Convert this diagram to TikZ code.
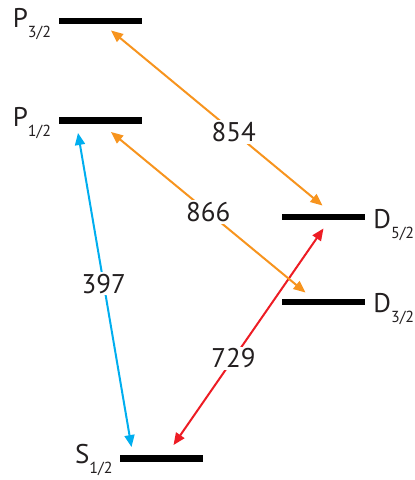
\documentclass[tikz,border=0pt]{standalone}
\usepackage{fontspec}
\setmainfont{PT Sans}
\usetikzlibrary{arrows.meta,calc,positioning}
\definecolor{lorange}{RGB}{247,148,30}
\definecolor{lblue}{RGB}{0,174,239}
\definecolor{lred}{RGB}{237,28,36}
\definecolor{ltext}{RGB}{35,31,32}
\newcommand{\lvlname}[2]{#1\raisebox{-10pt}{\fontsize{16}{16}\selectfont #2}}
\tikzset{lvbar/.style={fill=black,minimum width=83pt,minimum height=6.5pt,inner sep=0pt},
  lbl/.style={font=\fontsize{27}{27}\selectfont,inner sep=0pt,text=ltext},
  trans/.style={{Triangle[length=12pt,width=10pt]}-{Triangle[length=12pt,width=10pt]},line width=2pt},
  wl/.style={fill=white,inner sep=2pt,text=ltext,font=\fontsize{27}{27}\selectfont}}

\begin{document}
\begin{tikzpicture}[x=1pt,y=-1pt]
\useasboundingbox (0,0) rectangle (415,480);
% levels
\node[lvbar] (p32) at (100,21) {};
\node[lvbar] (p12) at (100,120.5) {};
\node[lvbar] (d52) at (323.5,217) {};
\node[lvbar] (d32) at (323.5,302) {};
\node[lvbar] (s12) at (161.5,458.5) {};
\node[lbl,anchor=base east] (p32l) at ($(p32.west)+(-7,6)$) {\lvlname{P}{3/2}};
\node[lbl,anchor=base east] (p12l) at ($(p12.west)+(-7,6)$) {\lvlname{P}{1/2}};
\node[lbl,anchor=base east] (s12l) at ($(s12.west)+(-7,5)$) {\lvlname{S}{1/2}};
\node[lbl,anchor=base west] (d52l) at ($(d52.east)+(8,11)$) {\lvlname{D}{5/2}};
\node[lbl,anchor=base west] (d32l) at ($(d32.east)+(8,10)$) {\lvlname{D}{3/2}};
% arrow ends
\coordinate (e854a) at ($(p32.south)+(11,6)$);
\coordinate (e854b) at ($(d52.north)+(-1,-8)$);
\coordinate (e866a) at ($(p12.south)+(11,8)$);
\coordinate (e866b) at ($(d32.north)+(-18,-6)$);
\coordinate (e397a) at ($(p12.south)+(-22,9)$);
\coordinate (e397b) at ($(s12.north)+(-30,-8)$);
\coordinate (e729a) at ($(d52.south)+(0,8)$);
\coordinate (e729b) at ($(s12.north)+(12,-10)$);
% transitions
\draw[trans,lred] (e729a) -- node[wl,pos=0.6] (w729) {729} (e729b);
\draw[trans,lblue] (e397a) -- node[wl,pos=0.48] (w397) {397} (e397b);
\draw[trans,lorange] (e854a) -- node[wl,pos=0.58] (w854) {854} (e854b);
\draw[trans,lorange] (e866a) -- node[wl,pos=0.5] (w866) {866} (e866b);
\end{tikzpicture}
\end{document}
